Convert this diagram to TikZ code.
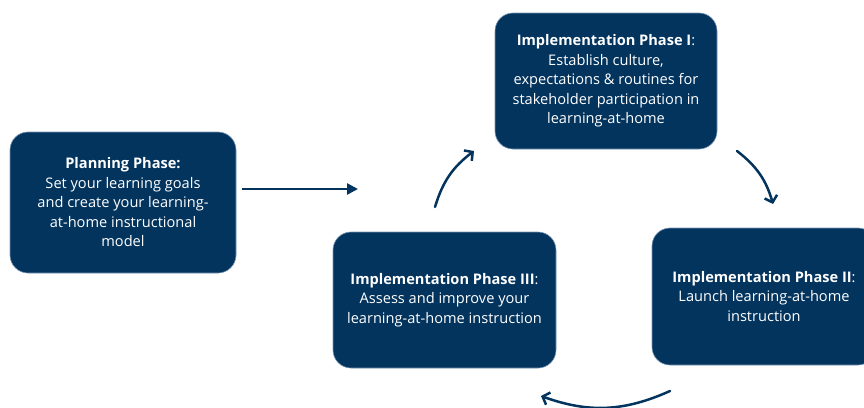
\documentclass[tikz,border=0pt]{standalone}
\usepackage{fontspec}
\setmainfont{Open Sans}
\usetikzlibrary{arrows.meta}
\definecolor{navy}{RGB}{3,52,94}
\definecolor{edge}{RGB}{120,150,178}
\begin{document}
\begin{tikzpicture}[x=1pt,y=-1pt,
  phase/.style={fill=navy, draw=edge, line width=0.6pt, rounded corners=18pt,
    text=white, align=center, inner sep=0pt,
    font=\fontsize{14.6}{19.5}\selectfont},
  cyclearrow/.style={draw=navy, line width=2.5pt, line cap=round,
    -{Straight Barb[length=6pt,width=13pt,line width=2.5pt]}},
  straightarrow/.style={draw=navy, line width=2.6pt,
    -{Triangle[length=11pt,width=11pt]}}]
\useasboundingbox (0,0) rectangle (864,407);

\node[phase, minimum width=226pt, minimum height=141pt] (plan) at (123,202.5)
  {\textbf{Planning Phase:}\\Set your learning goals\\and create your learning-\\at-home instructional\\model};
\node[phase, minimum width=222pt, minimum height=136pt] (p1) at (606,81)
  {\textbf{Implementation Phase I}:\\Establish culture,\\expectations \& routines for\\stakeholder participation in\\learning-at-home};
\node[phase, minimum width=224pt, minimum height=137pt] (p2) at (764,296.5)
  {\textbf{Implementation Phase II}:\\Launch learning-at-home\\instruction};
\node[phase, minimum width=223pt, minimum height=136pt] (p3) at (444.5,300)
  {\textbf{Implementation Phase III}:\\Assess and improve your\\learning-at-home instruction};

\coordinate (a1s) at (242,189);
\coordinate (a1e) at (358,189);
\coordinate (a2s) at (435,207);
\coordinate (a2e) at (474,151);
\coordinate (a3s) at (737,151);
\coordinate (a3e) at (773,204);
\coordinate (a4s) at (670,391);
\coordinate (a4e) at (541,396);

\draw[straightarrow] (a1s) -- (a1e);
\draw[cyclearrow] (a2s) to[bend left=18] (a2e);
\draw[cyclearrow] (a3s) to[bend left=18] (a3e);
\draw[cyclearrow] (a4s) to[bend left=22] (a4e);
\end{tikzpicture}
\end{document}
